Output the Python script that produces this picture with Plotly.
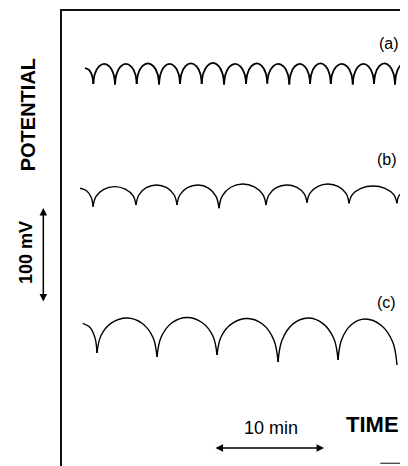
import plotly.graph_objects as go

# ---- data (time in min, potential in mV, arbitrary offset) ----
# trace (a)
a_start_t, a_start_v = 2.09, 418.9
a_cusp_t = [2.85, 4.82, 6.79, 8.82, 10.73, 12.70, 14.73, 16.73, 18.66, 20.66, 22.55, 24.43, 26.43, 28.36, 30.27]
a_cusp_v = [402.1, 401.6, 402.1, 401.6, 402.1, 402.1, 401.6, 402.1, 402.6, 401.6, 402.1, 402.1, 401.6, 402.1, 401.6]
a_peak_t = [3.84, 5.81, 7.81, 9.78, 11.72, 13.72, 15.73, 17.70, 19.66, 21.61, 23.49, 25.43, 27.40, 29.32]
a_peak_v = [423.2, 423.2, 423.7, 423.2, 423.7, 424.2, 423.2, 423.7, 423.2, 423.2, 423.7, 423.2, 423.2, 423.7]
a_end_t, a_end_v = 31.18, 424.2

# trace (b)
b_start_t, b_start_v = 1.64, 292.3
b_cusp_t = [2.82, 6.73, 10.45, 14.27, 18.55, 22.27, 26.09, 30.45]
b_cusp_v = [272.9, 274.7, 274.7, 271.3, 274.7, 277.2, 276.5, 276.5]
b_peak_t = [4.77, 8.59, 12.36, 16.41, 20.41, 24.18, 28.27]
b_peak_v = [294.0, 295.8, 295.8, 296.8, 295.8, 296.8, 294.7]
b_end_t, b_end_v = 31.18, 288.4

# trace (c)
c_start_t, c_start_v = 1.88, 150.2
c_cusp_t = [3.18, 8.64, 14.09, 19.64, 25.09]
c_cusp_v = [118.9, 114.7, 116.8, 109.5, 111.6]
c_peak_t = [5.91, 11.36, 16.86, 22.36, 27.55]
c_peak_v = [155.8, 156.3, 155.3, 155.8, 154.7]
c_end_t, c_end_v = 30.45, 106.3

labels = ["(a)", "(b)", "(c)"]

# axis extents (min, mV)
T_MAX = 31.45
V_MAX = 478.9

# drawing style: each half-arc between a cusp and a crest is drawn as a
# quarter-ellipse through two shoulder points (fraction of run, fraction of rise)
ARC_SHOULDERS = [(0.134, 0.5), (0.5, 0.866)]


def half_arc(low, high, rising):
    """points from low (cusp) to high (crest) or reverse, quarter-ellipse style"""
    lt, lv = low
    ht, hv = high
    dt, dv = ht - lt, hv - lv
    pts = [(lt + fx * dt, lv + fy * dv) for fx, fy in ARC_SHOULDERS]
    seq = [low] + pts + [high]
    return seq if rising else seq[::-1]


def build(start, cusps_t, cusps_v, peaks_t, peaks_v, end, end_is_peak):
    xs, ys = [], []

    def add(seq):
        for t, v in seq:
            xs.append(t)
            ys.append(v)

    # leading partial arc: start (near crest) down to first cusp
    add(half_arc((cusps_t[0], cusps_v[0]), (start[0], start[1]), False))
    xs.append(None); ys.append(None)
    for i in range(len(cusps_t) - 1):
        c0 = (cusps_t[i], cusps_v[i])
        p = (peaks_t[i], peaks_v[i])
        c1 = (cusps_t[i + 1], cusps_v[i + 1])
        add(half_arc(c0, p, True))
        add(half_arc(c1, p, False)[1:])
        xs.append(None); ys.append(None)
    last = (cusps_t[-1], cusps_v[-1])
    if end_is_peak:
        add(half_arc(last, end, True))
    else:
        p = (peaks_t[-1], peaks_v[-1])
        add(half_arc(last, p, True))
        add(half_arc(end, p, False)[1:])
    return xs, ys


fig = go.Figure()
ink = "#000000"
widths = [1.8, 1.4, 1.4]

ax_, ay_ = build((a_start_t, a_start_v), a_cusp_t, a_cusp_v, a_peak_t, a_peak_v, (a_end_t, a_end_v), True)
bx_, by_ = build((b_start_t, b_start_v), b_cusp_t, b_cusp_v, b_peak_t, b_peak_v, (b_end_t, b_end_v), True)
cx_, cy_ = build((c_start_t, c_start_v), c_cusp_t, c_cusp_v, c_peak_t, c_peak_v, (c_end_t, c_end_v), False)

for (xs, ys, name), w in zip([(ax_, ay_, labels[0]), (bx_, by_, labels[1]), (cx_, cy_, labels[2])], widths):
    fig.add_trace(go.Scatter(x=xs, y=ys, mode="lines", name=name,
                             line=dict(color=ink, width=w, shape="spline", smoothing=1.0),
                             connectgaps=False, showlegend=False, hoverinfo="skip"))

font = "Liberation Sans, Arial, Helvetica, sans-serif"
ann = []
# curve labels
for txt, t, v in [(labels[0], 29.73, 444.7), (labels[1], 29.55, 322.1), (labels[2], 29.45, 171.6)]:
    ann.append(dict(x=t, y=v, xref="x", yref="y", text=txt, showarrow=False,
                    xanchor="center", yanchor="middle",
                    font=dict(family=font, size=16, color=ink)))
# axis titles
ann.append(dict(x=-0.0975, y=0.7714, xref="paper", yref="paper", text="<b>POTENTIAL</b>",
                textangle=-90, showarrow=False, xanchor="center", yanchor="middle",
                font=dict(family=font, size=20, color=ink)))
ann.append(dict(x=-0.1055, y=0.4692, xref="paper", yref="paper", text="<b>100 mV</b>",
                textangle=-90, showarrow=False, xanchor="center", yanchor="middle",
                font=dict(family=font, size=18, color=ink)))
ann.append(dict(x=19.0, y=39.5, xref="x", yref="y", text="10 min", showarrow=False,
                xanchor="center", yanchor="middle",
                font=dict(family=font, size=18, color=ink)))
ann.append(dict(x=28.23, y=43.2, xref="x", yref="y", text="<b>TIME</b>", showarrow=False,
                xanchor="center", yanchor="middle",
                font=dict(family=font, size=22, color=ink)))
# scale arrows (10 min, 100 mV)
ann.append(dict(x=23.82, y=18.9, ax=13.82, ay=18.9, xref="x", yref="y", axref="x", ayref="y",
                text="", showarrow=True, arrowhead=2, startarrowhead=2, arrowside="end+start",
                arrowsize=1, startarrowsize=1, arrowwidth=1.5, arrowcolor=ink,
                standoff=0, startstandoff=0))
ann.append(dict(x=-0.054, y=271.6, ax=0, ay=171.6, xref="paper", yref="y", axref="pixel", ayref="y",
                text="", showarrow=True, arrowhead=2, startarrowhead=2, arrowside="end+start",
                arrowsize=1, startarrowsize=1, arrowwidth=1.5, arrowcolor=ink,
                standoff=0, startstandoff=0))

# page body has an 8px default margin: figure is sized so the visible frame is 408x466
fig.update_layout(
    width=400, height=458,
    margin=dict(l=54, r=0, t=3, b=0, pad=0),
    paper_bgcolor="white", plot_bgcolor="white",
    annotations=ann,
    shapes=[dict(type="line", xref="paper", yref="paper", x0=0.92, x1=1.0, y0=0.006, y1=0.006,
                 line=dict(color="#333333", width=1.2))],
    xaxis=dict(range=[0, T_MAX], side="top", showline=True, linecolor="#111111", linewidth=1.5,
               showgrid=False, zeroline=False, showticklabels=False, ticks="", fixedrange=True),
    yaxis=dict(range=[0, V_MAX], showline=True, linecolor="#111111", linewidth=1.5,
               showgrid=False, zeroline=False, showticklabels=False, ticks="", fixedrange=True),
)

fig.write_html("out.html")
